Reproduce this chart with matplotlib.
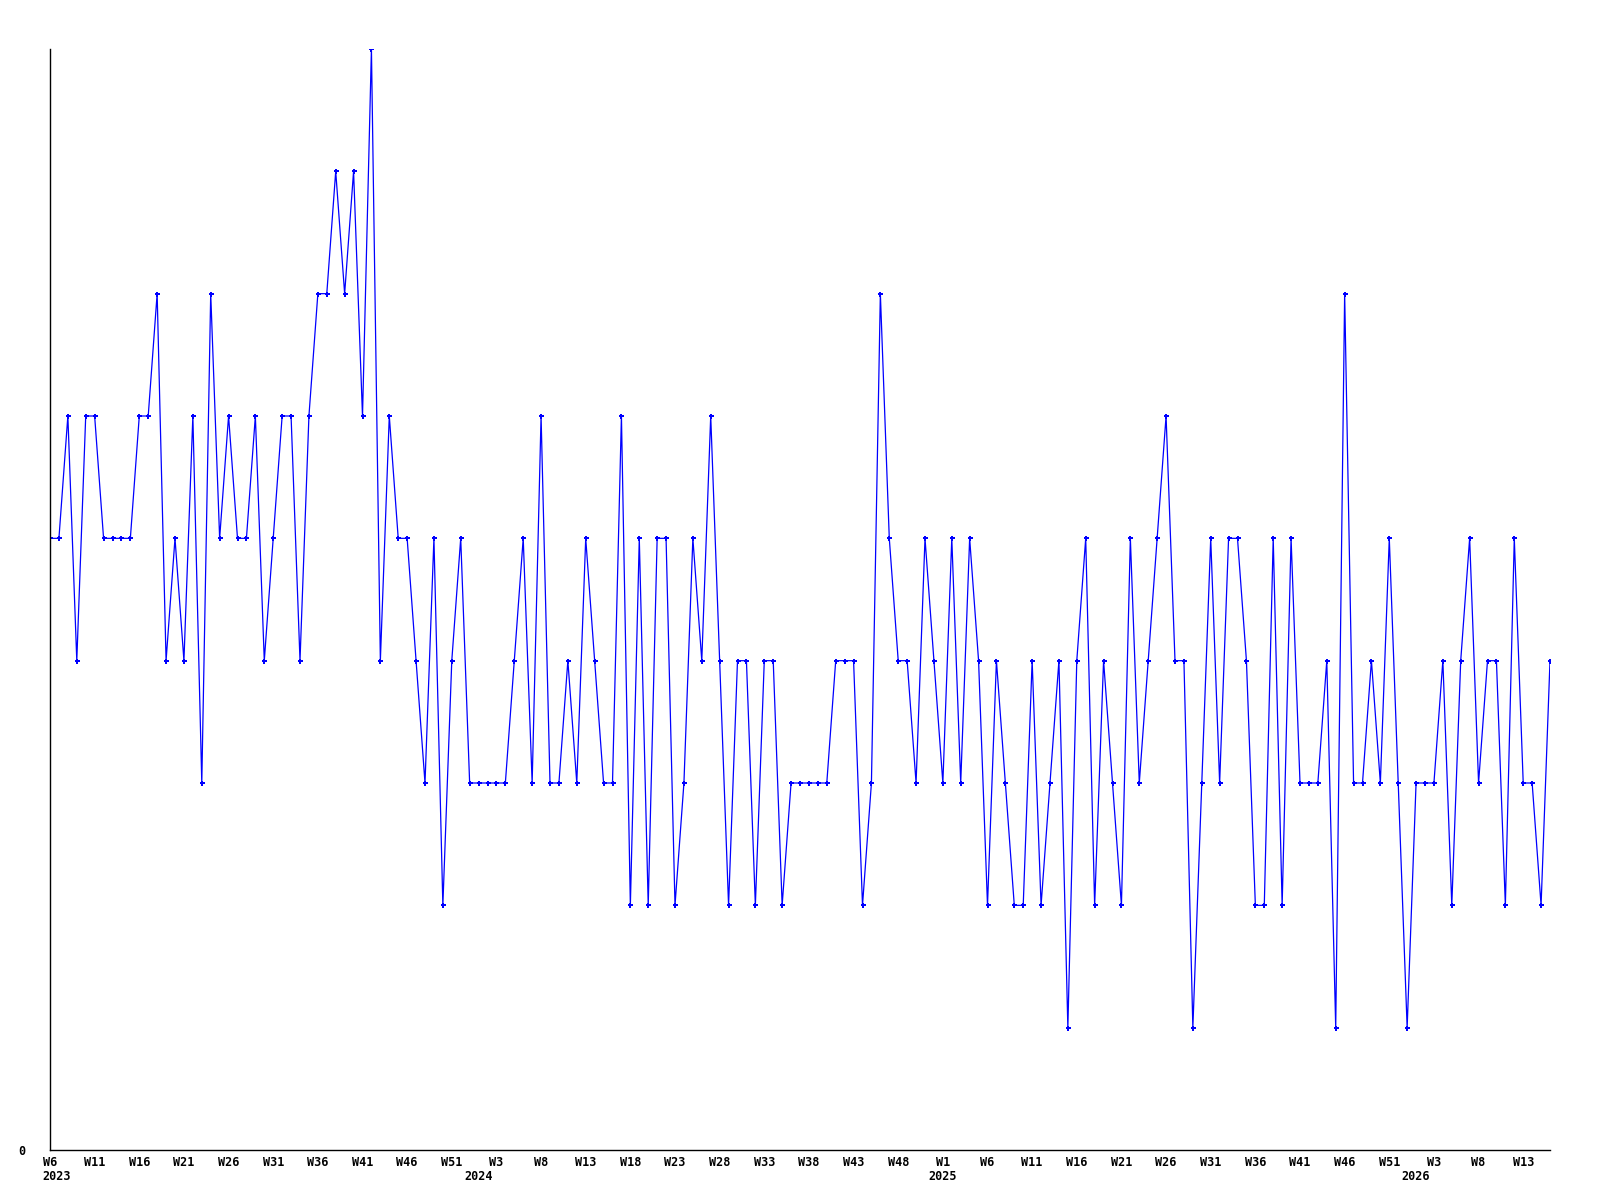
import matplotlib
matplotlib.use("Agg")
import matplotlib.pyplot as plt
import matplotlib.transforms as mtransforms
import numpy as np

# weekly counts, one list per year (week numbering as shown on the chart)
years = [2023, 2024, 2025, 2026]
first_week = [6, 1, 1, 1]
last_week = [53, 52, 53, 16]

counts_2023 = [5, 5, 6, 4, 6, 6, 5, 5, 5, 5, 6, 6, 7, 4, 5, 4, 6, 3, 7, 5, 6, 5, 5, 6, 4, 5, 6, 6, 4,
               6, 7, 7, 8, 7, 8, 6, 9, 4, 6, 5, 5, 4, 3, 5, 2, 4, 5, 3]
counts_2024 = [3, 3, 3, 3, 4, 5, 3, 6,
               3, 3, 4, 3, 5, 4, 3, 3, 6, 2, 5, 2, 5, 5, 2, 3, 5, 4, 6, 4, 2, 4, 4, 2, 4, 4, 2, 3, 3,
               3, 3, 3, 4, 4, 4, 2, 3, 7, 5, 4, 4, 3, 5, 4]
counts_2025 = [3, 5, 3, 5, 4, 2, 4, 3, 2, 2, 4, 2, 3,
               4, 1, 4, 5, 2, 4, 3, 2, 5, 3, 4, 5, 6, 4, 4, 1, 3, 5, 3, 5, 5, 4, 2, 2, 5, 2, 5, 3,
               3, 3, 4, 1, 7, 3, 3, 4, 3, 5, 3, 1]
counts_2026 = [3, 3, 3, 4, 2, 4, 5, 3, 4, 4, 2, 5, 3, 3, 2, 4]

counts = counts_2023 + counts_2024 + counts_2025 + counts_2026

week_num = []
week_year = []
for y, w0, w1 in zip(years, first_week, last_week):
    for w in range(w0, w1 + 1):
        week_num.append(w)
        week_year.append(y)

x = np.arange(len(counts))

fig = plt.figure(figsize=(16, 12), dpi=100)
ax = fig.add_axes([50 / 1600, 50 / 1200, 1500 / 1600, 1101 / 1200])

ax.plot(x, counts, color='#0000ff', linewidth=0.9, marker='P', markersize=3.6,
        markeredgewidth=0, markerfacecolor='#0000ff')

ax.set_xlim(0, len(counts) - 1)
ax.set_ylim(0, 9)

for s in ['top', 'right']:
    ax.spines[s].set_visible(False)
for s in ['left', 'bottom']:
    ax.spines[s].set_color('black')
    ax.spines[s].set_linewidth(1.0)

font = dict(family='DejaVu Sans Mono', weight='bold', size=8.5)

# week ticks every 5 weeks
tick_idx = x[::5]
ax.set_xticks(tick_idx)
ax.set_xticklabels(['W%d' % week_num[i] for i in tick_idx], **font)
ax.tick_params(axis='x', length=0, pad=4.5)

ax.set_yticks([0])
ax.set_yticklabels(['0'], **font)
ax.tick_params(axis='y', length=0, pad=18)

# year labels below the week labels
trans = mtransforms.blended_transform_factory(ax.transData, ax.transAxes)
for i in range(len(counts)):
    if i == 0 and week_num[i] != 1:
        t = mtransforms.offset_copy(trans, fig=fig, x=-7.5, y=0, units='dots')
        ax.text(i, -0.0245, str(week_year[i]), transform=t, ha='left', va='center', **font)
    elif week_num[i] == 1:
        ax.text(i, -0.0245, str(week_year[i]), transform=trans, ha='center', va='center', **font)

fig.savefig('out.png', dpi=100)
